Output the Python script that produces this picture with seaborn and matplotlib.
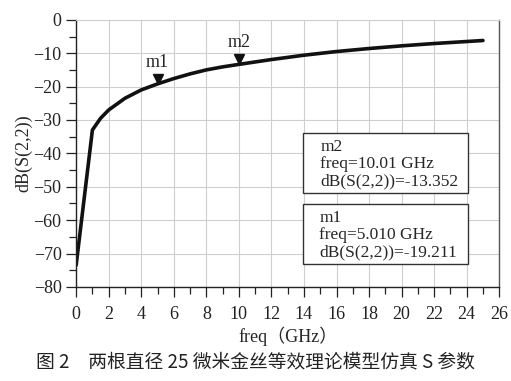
import numpy as np
import pandas as pd
import matplotlib
matplotlib.use('Agg')
import matplotlib.pyplot as plt
import seaborn as sns
from matplotlib.ticker import MultipleLocator

sns.set_style("white")
plt.rcParams['font.family'] = ['Liberation Serif', 'Noto Sans CJK SC']

# curve
freq = [0.0, 1.0, 1.5, 2.0, 3.0, 4.0, 5.0, 6.0, 7.0, 8.0, 9.0, 10.0, 12.0,
        14.0, 16.0, 18.0, 20.0, 22.0, 24.0, 25.0]
s22 = [-73.5, -33.0, -29.5, -27.0, -23.5, -21.0, -19.2, -17.6, -16.2,
       -15.0, -14.1, -13.35, -11.9, -10.6, -9.5, -8.6, -7.8, -7.1, -6.5, -6.2]
y_ticks = [-80, -70, -60, -50, -40, -30, -20, -10, 0]
markers = ['m1', 'm2']
marker_freq = [5.01, 10.01]
marker_db = [-19.211, -13.352]
marker_freq_txt = ['5.010', '10.01']

df = pd.DataFrame({'freq': freq, 'db': s22})

fig = plt.figure(figsize=(5.11, 3.81), dpi=100)
ax = fig.add_axes([0.149, 0.247, 0.828, 0.701])

sns.lineplot(data=df, x='freq', y='db', color='#111111', linewidth=2.6, ax=ax)

ax.xaxis.set_major_locator(MultipleLocator(2))
ax.xaxis.set_minor_locator(MultipleLocator(1))
ax.set_yticks(y_ticks)
ax.set_yticklabels([f'\u2212{abs(v)}' if v < 0 else f'{v}' for v in y_ticks])
ax.yaxis.set_minor_locator(MultipleLocator(5))
ax.set_xlim(0, 26)
ax.set_ylim(-80, 0)
ax.grid(True, which='major', color='#cfcfcf', linewidth=0.8)
ax.tick_params(which='major', direction='out', length=7, width=0.9, labelsize=13,
               bottom=True, left=True, colors='#222222')
ax.tick_params(axis='x', which='major', pad=7)
ax.tick_params(which='minor', direction='out', length=5, width=0.9,
               bottom=True, left=True, colors='#222222')
for s in ['left', 'bottom']:
    ax.spines[s].set_color('#222222')
    ax.spines[s].set_linewidth(1.0)
ax.spines['top'].set_color('#cfcfcf')
ax.spines['right'].set_color('#555555')
ax.spines['right'].set_linewidth(1.0)

ax.set_xlabel('freq\uff08GHz\uff09', fontsize=13, labelpad=2)
ax.set_ylabel('dB(S(2,2))', fontsize=13, labelpad=1)

for name, fx, fy in zip(markers, marker_freq, marker_db):
    ax.plot([fx], [fy + 1.6], marker='v', color='#111111', markersize=7, linestyle='none')
    ax.text(fx, fy + 4.0, name, ha='center', va='bottom', fontsize=13)

# marker readout boxes (m2 above m1)
box_pos = {'m2': (0.537, 0.352), 'm1': (0.535, 0.086)}
for name, ftxt, fy in zip(markers, marker_freq_txt, marker_db):
    bx, by = box_pos[name]
    txt = f'{name}\nfreq={ftxt} GHz\ndB(S(2,2))={fy:.3f}'
    ax.text(bx + 0.04, by + 0.012, txt, transform=ax.transAxes, ha='left', va='bottom',
            fontsize=12.5, linespacing=1.12)
    ax.add_patch(plt.Rectangle((bx, by), 0.39, 0.225, transform=ax.transAxes,
                               fill=True, facecolor='white', edgecolor='#333333',
                               linewidth=1.0, zorder=1.5))

fig.text(0.5, 0.022, '图 2\u3000两根直径 25 微米金丝等效理论模型仿真 S 参数',
         ha='center', va='bottom', fontsize=13.5,
         family=['Noto Sans CJK SC', 'DejaVu Sans'], color='#222222')

fig.savefig('out.png', dpi=100)
